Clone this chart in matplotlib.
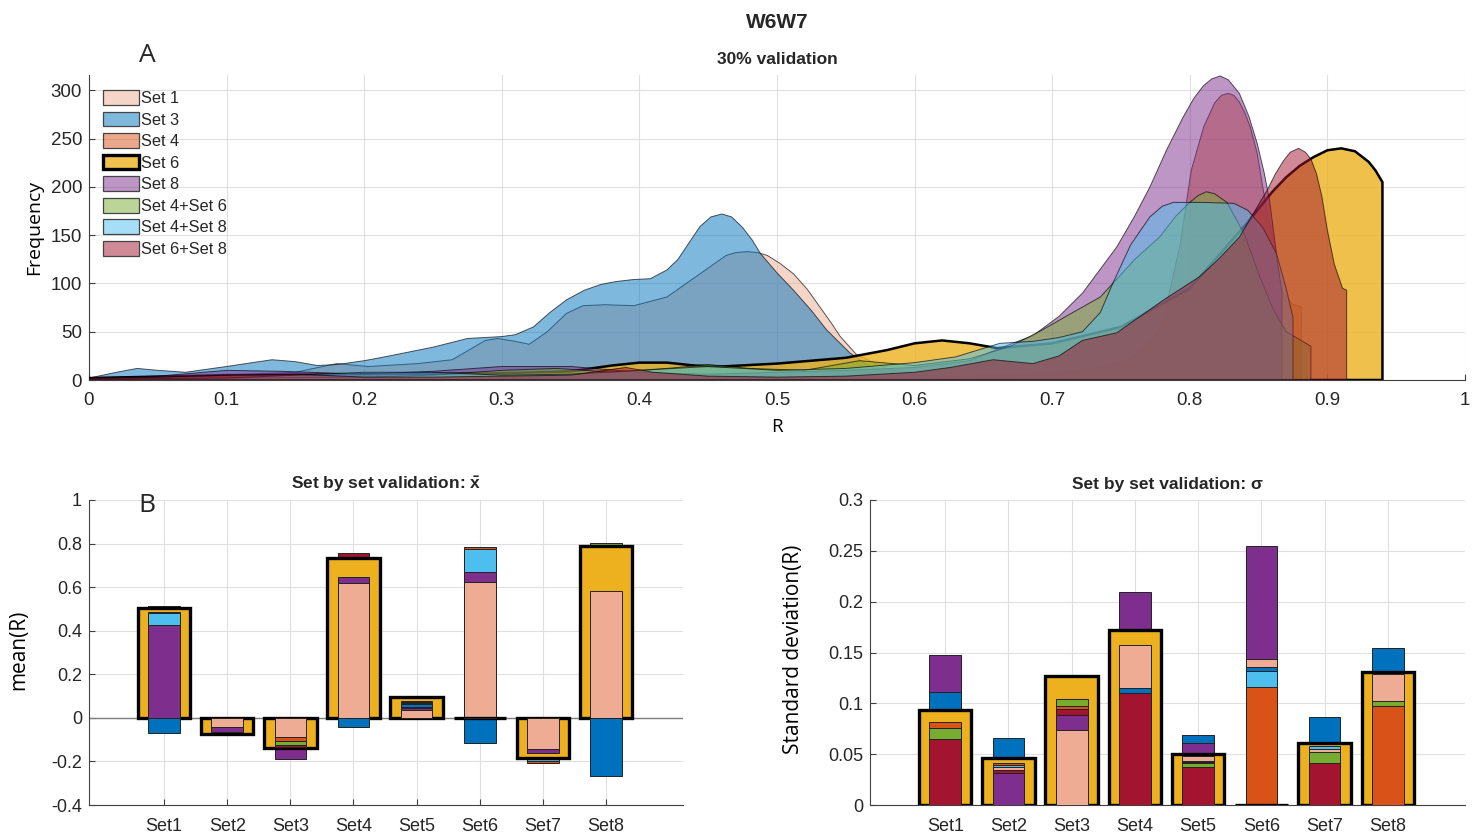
import numpy as np
import matplotlib
matplotlib.use("Agg")
import matplotlib.pyplot as plt
from matplotlib.patches import Patch
from matplotlib.colors import to_rgba

plt.rcParams['font.family'] = ['Liberation Sans', 'DejaVu Sans']
plt.rcParams['text.color'] = '#262626'
plt.rcParams['mathtext.fontset'] = 'custom'
plt.rcParams['mathtext.bf'] = 'Liberation Sans:bold'
plt.rcParams['mathtext.rm'] = 'Liberation Sans'

# ---------------- panel A: density curves (R, frequency) ----------------
r_set1 = [0, 0.05, 0.1, 0.15, 0.18, 0.203, 0.239, 0.264, 0.288, 0.297, 0.31, 0.32, 0.333, 0.347,
          0.359, 0.375, 0.396, 0.42, 0.444, 0.455, 0.463, 0.47, 0.478, 0.486, 0.493, 0.502, 0.512,
          0.522, 0.531, 0.539, 0.546, 0.558, 0.58, 0.6, 0.65, 0.7]
f_set1 = [1, 3, 5, 8, 17, 14, 17, 21, 41, 43, 40, 37, 50, 69,
          77, 78, 77, 86, 110, 121, 129, 132, 133, 132, 129, 121, 110,
          94, 76, 60, 45, 26, 12, 6, 2, 0]

r_set3 = [0, 0.02, 0.035, 0.05, 0.07, 0.1, 0.133, 0.15, 0.166, 0.18, 0.2, 0.215, 0.25, 0.275,
          0.3, 0.31, 0.323, 0.335, 0.347, 0.36, 0.372, 0.383, 0.395, 0.408, 0.42, 0.428, 0.436,
          0.444, 0.452, 0.46, 0.467, 0.475, 0.482, 0.488, 0.5, 0.512, 0.525, 0.536, 0.553, 0.57,
          0.6, 0.65, 0.7]
f_set3 = [2, 8, 12, 10, 8, 14, 21, 19, 15, 16, 20, 24, 34, 43,
          45, 47, 55, 70, 83, 93, 99, 102, 104, 105, 114, 125, 142,
          159, 169, 172, 169, 158, 145, 131, 111, 93, 72, 52, 28, 12,
          5, 2, 0]

r_set4 = [0, 0.1, 0.2, 0.3, 0.36, 0.385, 0.4, 0.42, 0.5, 0.6, 0.7, 0.74, 0.759, 0.778, 0.786,
          0.793, 0.801, 0.81, 0.818, 0.823, 0.828, 0.832, 0.836, 0.84, 0.844, 0.849, 0.853, 0.857,
          0.861, 0.865, 0.868, 0.875, 0.881]
f_set4 = [1, 2, 4, 5, 6, 12, 8, 4, 3, 3, 6, 14, 24, 52, 96,
          140, 217, 262, 287, 295, 297, 295, 288, 277, 262, 235, 200, 170,
          141, 112, 90, 78, 76]

r_set6 = [0, 0.1, 0.2, 0.3, 0.35, 0.38, 0.4, 0.42, 0.44, 0.46, 0.5, 0.55, 0.58, 0.6, 0.62,
          0.64, 0.66, 0.7, 0.75, 0.8, 0.84, 0.86, 0.87, 0.88, 0.89, 0.9, 0.91, 0.92, 0.93, 0.935,
          0.94]
f_set6 = [2, 5, 6, 7, 9, 15, 18, 18, 15, 14, 17, 23, 31, 38, 41,
          38, 33, 38, 55, 95, 160, 195, 210, 222, 231, 238, 240, 237, 226, 217,
          205]

r_set8 = [0, 0.05, 0.1, 0.14, 0.2, 0.25, 0.3, 0.35, 0.4, 0.45, 0.5, 0.55, 0.6, 0.64, 0.662,
          0.686, 0.705, 0.722, 0.747, 0.76, 0.771, 0.783, 0.795, 0.803, 0.81, 0.816, 0.822, 0.828,
          0.836, 0.843, 0.849, 0.854, 0.858, 0.863, 0.867]
f_set8 = [2, 4, 10, 9, 6, 9, 14, 14, 8, 6, 8, 10, 13, 20, 33,
          46, 66, 90, 138, 170, 200, 238, 272, 292, 305, 312, 315, 311,
          297, 273, 245, 215, 186, 130, 90]

r_set46 = [0, 0.1, 0.2, 0.25, 0.3, 0.34, 0.38, 0.42, 0.45, 0.48, 0.52, 0.56, 0.6, 0.64, 0.67,
           0.693, 0.715, 0.735, 0.744, 0.76, 0.778, 0.79, 0.8, 0.806, 0.812, 0.818, 0.827, 0.84,
           0.85, 0.86, 0.87, 0.888]
f_set46 = [1, 2, 3, 5, 10, 12, 8, 12, 16, 12, 10, 20, 15, 22, 35,
           52, 70, 86, 100, 125, 148, 170, 184, 191, 195, 193, 184, 150,
           110, 75, 50, 35]

r_set48 = [0, 0.1, 0.2, 0.25, 0.3, 0.35, 0.4, 0.45, 0.5, 0.55, 0.6, 0.63, 0.662, 0.686,
           0.705, 0.722, 0.735, 0.744, 0.757, 0.771, 0.78, 0.788, 0.81, 0.832, 0.842, 0.853,
           0.863, 0.87, 0.875]
f_set48 = [1, 2, 8, 8, 5, 6, 10, 14, 10, 12, 18, 24, 38, 40,
           44, 50, 70, 100, 140, 169, 180, 184, 184, 183, 176, 158,
           131, 95, 65]

r_set68 = [0, 0.05, 0.1, 0.15, 0.2, 0.25, 0.3, 0.35, 0.37, 0.39, 0.41, 0.45, 0.5, 0.55, 0.6,
           0.626, 0.657, 0.686, 0.705, 0.722, 0.747, 0.781, 0.807, 0.82, 0.836, 0.856, 0.862,
           0.868, 0.873, 0.879, 0.884, 0.888, 0.892, 0.896, 0.9, 0.905, 0.911, 0.914]
f_set68 = [2, 3, 5, 6, 3, 3, 4, 5, 9, 13, 8, 4, 3, 4, 8,
           13, 21, 17, 25, 41, 49, 83, 107, 124, 148, 196, 213,
           227, 236, 240, 236, 229, 214, 190, 155, 120, 95, 93]

curve_names = ['Set 1', 'Set 3', 'Set 4', 'Set 6', 'Set 8', 'Set 4+Set 6', 'Set 4+Set 8', 'Set 6+Set 8']
curve_r = [r_set1, r_set3, r_set4, r_set6, r_set8, r_set46, r_set48, r_set68]
curve_f = [f_set1, f_set3, f_set4, f_set6, f_set8, f_set46, f_set48, f_set68]

colors = {'Set 1': '#EEAC94', 'Set 3': '#0072BD', 'Set 4': '#D95319', 'Set 6': '#EDB120',
          'Set 8': '#7E2F8E', 'Set 4+Set 6': '#77AC30', 'Set 4+Set 8': '#4DBEEE',
          'Set 6+Set 8': '#A2142F'}

# ---------------- panel B: set by set validation ----------------
groups = ['Set1', 'Set2', 'Set3', 'Set4', 'Set5', 'Set6', 'Set7', 'Set8']

mean_set1 = [0, -0.043, -0.089, 0.618, 0.035, 0.625, -0.144, 0.582]
mean_set3 = [-0.071, -0.079, 0, -0.043, 0.062, -0.117, 0, -0.267]
mean_set4 = [0.487, 0, -0.105, 0, 0.074, 0.786, -0.205, 0]
mean_set6 = [0.503, -0.074, -0.14, 0.732, 0.097, 0, -0.186, 0.789]
mean_set8 = [0.426, -0.066, -0.19, 0.645, 0.045, 0.668, -0.163, 0]
mean_set46 = [0, 0, -0.125, 0, 0.079, 0, 0, 0.804]
mean_set48 = [0.483, 0, 0, 0, 0.07, 0.775, -0.198, 0]
mean_set68 = [0.513, 0, -0.132, 0.758, 0.052, 0, 0, 0]

std_set1 = [0, 0.037, 0.0738, 0.157, 0.0482, 0.1433, 0.0548, 0.1288]
std_set3 = [0.1108, 0.0656, 0, 0.1148, 0.0689, 0.136, 0.0862, 0.154]
std_set4 = [0.082, 0.041, 0.097, 0, 0.043, 0.1164, 0, 0.0974]
std_set6 = [0.0934, 0.0459, 0.127, 0.172, 0.0499, 0, 0.0607, 0.131]
std_set8 = [0.1475, 0.031, 0.089, 0.2098, 0.0607, 0.2547, 0, 0]
std_set46 = [0.0754, 0, 0.104, 0, 0.0416, 0, 0.0525, 0.1026]
std_set48 = [0, 0.039, 0, 0, 0.0426, 0.132, 0.058, 0]
std_set68 = [0.0646, 0.0344, 0.094, 0.1105, 0.037, 0, 0.0416, 0]

mean_vals = [mean_set1, mean_set3, mean_set4, mean_set6, mean_set8, mean_set46, mean_set48, mean_set68]
std_vals = [std_set1, std_set3, std_set4, std_set6, std_set8, std_set46, std_set48, std_set68]

grid_col = '#DFDFDF'
axis_col = '#404040'
label_font = ['Open Sans', 'DejaVu Sans']


def style_axes(ax):
    for s in ['top', 'right']:
        ax.spines[s].set_visible(False)
    for s in ['left', 'bottom']:
        ax.spines[s].set_color(axis_col)
        ax.spines[s].set_linewidth(0.8)
    ax.grid(True, color=grid_col, lw=0.8)
    ax.set_axisbelow(True)
    ax.tick_params(direction='in', length=4, color=axis_col, labelcolor='#262626')


fig = plt.figure(figsize=(14.74, 8.35), dpi=100)

# ---- top: frequency curves
ax = fig.add_axes([89 / 1474, 1 - 380 / 835, 1376 / 1474, 305 / 835])
style_axes(ax)
for i, name in enumerate(curve_names):
    r = list(curve_r[i])
    f = list(curve_f[i])
    xs = r + [r[-1], r[0]]
    ys = f + [0, 0]
    if name == 'Set 6':
        ax.fill(xs, ys, facecolor=colors[name], alpha=0.8, edgecolor='none', zorder=2 + i)
        ax.fill(xs, ys, facecolor='none', edgecolor='black', lw=1.8, zorder=2 + i)
    else:
        ax.fill(xs, ys, facecolor=colors[name], alpha=0.5, edgecolor='none', zorder=2 + i)
        ax.fill(xs, ys, facecolor='none', edgecolor=(0, 0, 0, 0.65), lw=0.7, zorder=2 + i)
ax.set_xlim(0, 1)
ax.set_ylim(0, 316)
ax.set_xticks(np.arange(0, 1.01, 0.1))
ax.set_xticklabels(['0', '0.1', '0.2', '0.3', '0.4', '0.5', '0.6', '0.7', '0.8', '0.9', '1'])
ax.set_yticks(np.arange(0, 301, 50))
ax.tick_params(labelsize=13.5)
ax.tick_params(axis='x', pad=8.5)
ax.tick_params(axis='y', pad=5)
ax.set_xlabel('R', fontsize=13.5, family=label_font)
ax.xaxis.set_label_coords(0.5, -0.125)
ax.set_ylabel('Frequency', fontsize=14, family=label_font)
ax.yaxis.set_label_coords(-0.033, 0.5)
ax.text(0.5, 1.052, '30% validation', transform=ax.transAxes, ha='center', va='center',
        fontsize=12.5, fontweight='bold')

handles = []
for name in curve_names:
    if name == 'Set 6':
        handles.append(Patch(facecolor=to_rgba(colors[name], 0.8), edgecolor='black', lw=2.4, label=name))
    else:
        handles.append(Patch(facecolor=to_rgba(colors[name], 0.5), edgecolor='#444444', lw=0.9, label=name))
leg = ax.legend(handles=handles, loc='upper left', bbox_to_anchor=(0.01, 0.95), frameon=False,
                fontsize=11.8, handlelength=2.2, handleheight=1.0, handletextpad=0.15,
                labelspacing=0.34, borderpad=0, borderaxespad=0)
leg.set_zorder(20)

# ---- bottom: overlaid bars, largest first, Set 6 drawn wide with a thick edge
xpos = np.arange(1, 9)


def draw_bars(ax, table):
    for g in range(len(groups)):
        entries = [(curve_names[k], table[k][g]) for k in range(len(curve_names))]
        entries.sort(key=lambda e: -abs(e[1]))
        for z, (name, v) in enumerate(entries):
            if name == 'Set 6':
                ax.bar(xpos[g], v, width=0.83, color=colors[name], edgecolor='black',
                       lw=2.4, zorder=3 + z * 0.1)
            else:
                ax.bar(xpos[g], v, width=0.5, color=colors[name], edgecolor='#222222',
                       lw=0.7, zorder=3 + z * 0.1)


axm = fig.add_axes([89 / 1474, 1 - 805 / 835, 594 / 1474, 305 / 835])
style_axes(axm)
axm.axhline(0, color='#808080', lw=1, zorder=2)
draw_bars(axm, mean_vals)
axm.set_xlim(-0.19, 9.22)
axm.set_ylim(-0.4, 1)
axm.set_xticks(xpos)
axm.set_xticklabels(groups)
axm.set_yticks(np.arange(-0.4, 1.01, 0.2))
axm.set_yticklabels(['-0.4', '-0.2', '0', '0.2', '0.4', '0.6', '0.8', '1'])
axm.tick_params(labelsize=13)
axm.tick_params(axis='x', pad=9.5)
axm.tick_params(axis='y', pad=5)
axm.set_ylabel('mean(R)', fontsize=15, family=label_font)
axm.yaxis.set_label_coords(-0.101, 0.51)
axm.text(0.5, 1.052, r'Set by set validation: $\mathbf{\bar{x}}$', transform=axm.transAxes,
         ha='center', va='center', fontsize=12.5, fontweight='bold')

axs = fig.add_axes([870 / 1474, 1 - 805 / 835, 595 / 1474, 305 / 835])
style_axes(axs)
draw_bars(axs, std_vals)
axs.set_xlim(-0.19, 9.22)
axs.set_ylim(0, 0.3)
axs.set_xticks(xpos)
axs.set_xticklabels(groups)
axs.set_yticks(np.arange(0, 0.301, 0.05))
axs.set_yticklabels(['0', '0.05', '0.1', '0.15', '0.2', '0.25', '0.3'])
axs.tick_params(labelsize=13)
axs.tick_params(axis='x', pad=9.5)
axs.tick_params(axis='y', pad=5)
axs.set_ylabel('Standard deviation(R)', fontsize=15, family=label_font)
axs.yaxis.set_label_coords(-0.111, 0.51)
axs.text(0.5, 1.052, 'Set by set validation: \u03c3', transform=axs.transAxes, ha='center',
         va='center', fontsize=12.5, fontweight='bold')

# ---- figure texts
fig.text(777 / 1474, 1 - 22 / 835, 'W6W7', ha='center', va='center', fontsize=15, fontweight='bold')
fig.text(147 / 1474, 1 - 55 / 835, 'A', ha='center', va='center', fontsize=19, family=label_font)
fig.text(147 / 1474, 1 - 505 / 835, 'B', ha='center', va='center', fontsize=19, family=label_font)

fig.savefig('out.png', dpi=100)
